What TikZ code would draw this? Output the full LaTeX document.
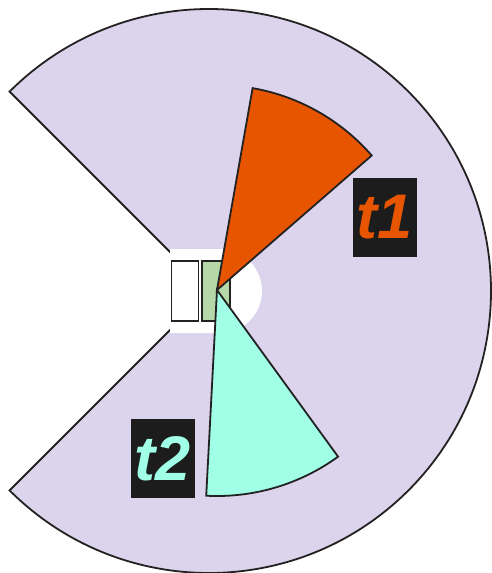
\documentclass[tikz,border=0pt]{standalone}
\usepackage{fontspec}
\newfontfamily\labfont{Liberation Sans}
\definecolor{lav}{HTML}{DCD3EC}
\definecolor{org}{HTML}{E85500}
\definecolor{cya}{HTML}{A0FFE6}
\definecolor{grn}{HTML}{B6D7A8}
\definecolor{dk}{HTML}{1C1C1C}
\definecolor{ln}{HTML}{222222}
\begin{document}
\begin{tikzpicture}[x=1pt,y=-1pt,
  edge/.style={draw=ln,line width=1.8pt,line join=miter},
  lab/.style={fill=dk,minimum width=64pt,minimum height=79pt,inner sep=0pt,font=\labfont\bfseries\itshape\fontsize{63}{63}\selectfont}]
\useasboundingbox (0,0) rectangle (491,573);
\coordinate (C) at (209,291);
\coordinate (A) at (217,290);
% big sector
\path[edge,fill=lav] (C) -- ++(-135:282) arc[start angle=-135,end angle=135,radius=282] -- cycle;
% white cut-out
\fill[white] (170,249) -- (220,249) arc[start angle=-90,end angle=90,radius=42] -- (170,333) -- cycle;
% rectangles
\node[edge,fill=white,minimum width=27pt,minimum height=60pt,inner sep=0pt] (r1) at (185,291) {};
\node[edge,fill=grn,minimum width=28pt,minimum height=60pt,inner sep=0pt] (r2) at (216,291) {};
% orange sector
\path[edge,fill=org] (A) -- ++(-80:205) arc[start angle=-80,end angle=-41,radius=205] -- cycle;
% cyan sector
\path[edge,fill=cya] (A) -- ++(54:206) arc[start angle=54,end angle=93,radius=206] -- cycle;
% labels
\node[lab,text=org] (t1) at (385,217.5) {t1};
\node[lab,text=cya] (t2) at (162.5,458.5) {t2};
\end{tikzpicture}
\end{document}
